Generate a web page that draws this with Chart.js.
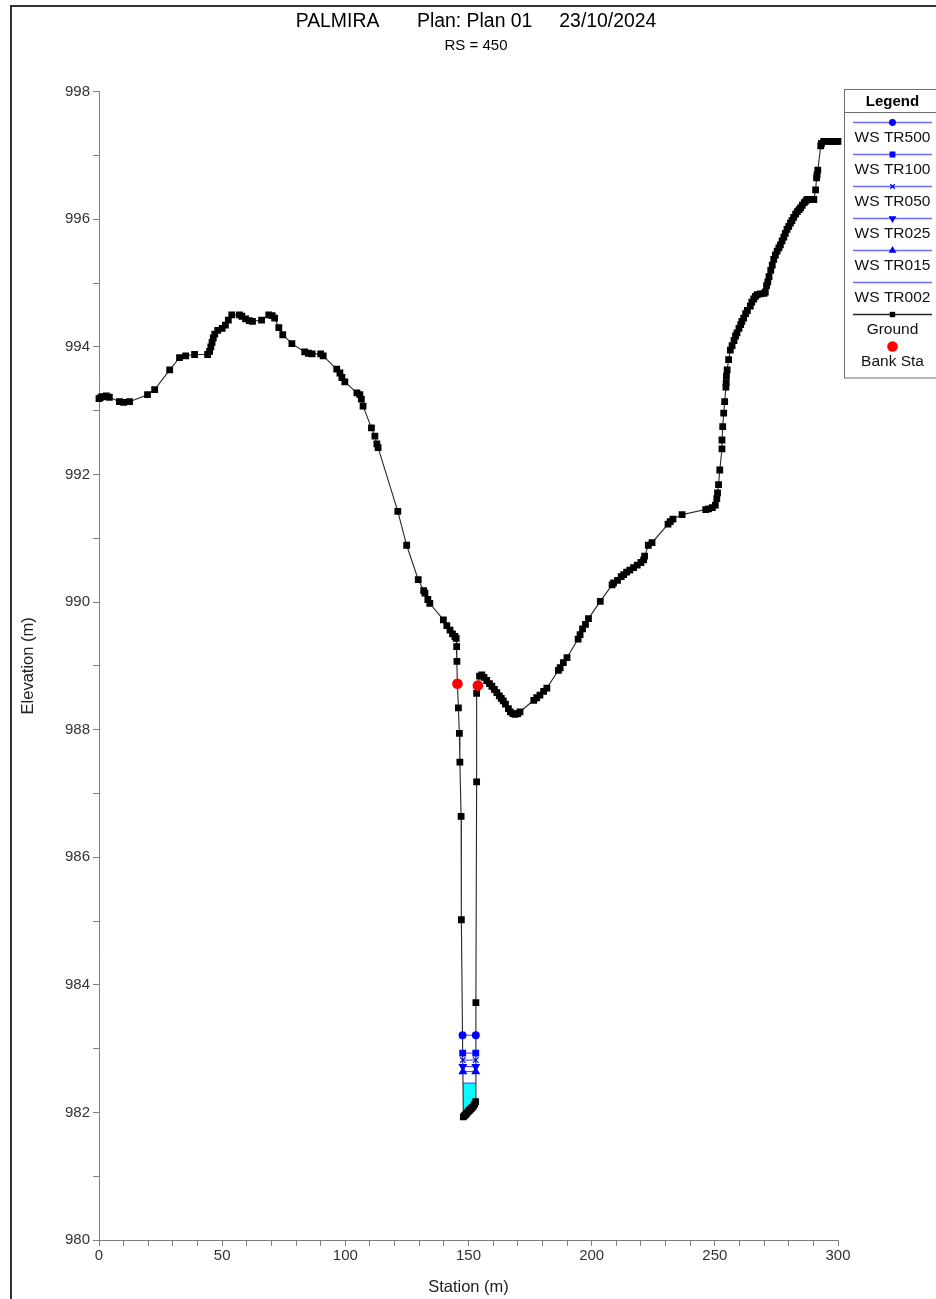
<!DOCTYPE html>
<html><head><meta charset="utf-8">
<script src="https://cdn.jsdelivr.net/npm/chart.js@4.4.1/dist/chart.umd.min.js"></script>
<style>
html,body{margin:0;padding:0;background:#fff;overflow:hidden;width:936px;height:1299px;}
#frame{position:absolute;left:10px;top:5px;width:1000px;height:1400px;border-left:2px solid #333;border-top:2px solid #333;}
#wrap{position:absolute;left:0;top:0;width:952px;height:1299px;}
</style></head><body>
<div id="frame"></div>
<div id="wrap"><canvas id="c" width="952" height="1299"></canvas></div>
<script>
// ---- data ----
const titleText = 'PALMIRA       Plan: Plan 01     23/10/2024';
const subtitleText = 'RS = 450';
const xAxisTitle = 'Station (m)';
const yAxisTitle = 'Elevation (m)';
const legendTitle = 'Legend';

const groundSta = [
  0, 0.8, 1.6, 3.0, 4.2, 8.3, 10.0, 12.4, 19.7, 22.6, 28.7, 32.7, 35.2, 38.8, 44.1, 44.9, 45.4, 45.9, 46.4, 47.0,
  48.2, 50.0, 51.3, 52.5, 53.9, 57.0, 58.0, 59.5, 61.0, 62.3, 66.0, 68.9, 70.3, 71.3, 73.0, 74.6, 78.3, 83.5, 85.0, 86.5,
  90.0, 91.0, 96.5, 97.8, 98.6, 99.8, 104.7, 105.9, 106.5, 107.2, 110.6, 112.0, 112.8, 113.3, 121.3, 124.9, 129.6, 131.8, 132.3, 133.5,
  134.3, 139.8, 141.2, 142.5, 143.5, 144.5, 145.0, 145.2, 145.3, 145.5, 145.9, 146.3, 146.5, 147.0, 147.1, 147.9, 148.4, 148.9, 149.3, 149.8,
  150.2, 150.6, 151.1, 151.5, 152.0, 152.5, 152.9, 153.0, 153.3, 153.3, 153.8, 154.5, 155.4, 156.3, 157.4, 158.5, 159.5, 160.5, 161.5, 162.5,
  163.3, 164.1, 165.0, 166.2, 167.0, 168.0, 168.9, 170.0, 170.9, 176.5, 177.7, 179.0, 180.5, 181.8, 186.5, 187.2, 188.5, 190.0, 194.5, 195.3,
  196.3, 197.5, 198.7, 203.5, 208.3, 208.9, 210.5, 212.0, 213.0, 214.2, 215.5, 217.0, 218.5, 220.0, 221.1, 221.5, 223.0, 224.5, 231.0, 231.9,
  233.0, 236.7, 246.3, 247.5, 249.0, 250.2, 250.8, 251.1, 251.5, 252.0, 252.9, 252.9, 253.2, 253.6, 254.0, 254.5, 254.6, 254.7, 255.0, 255.6,
  256.3, 257.0, 257.8, 258.4, 259.0, 259.8, 260.5, 261.0, 261.7, 262.5, 263.2, 264.4, 265.0, 265.8, 266.5, 267.2, 268.5, 270.0, 270.5, 271.0,
  271.5, 272.0, 272.7, 273.3, 273.9, 274.6, 275.3, 276.0, 276.6, 277.3, 278.0, 278.6, 279.3, 280.0, 280.7, 281.3, 282.0, 282.8, 283.5, 284.2,
  284.8, 285.5, 286.3, 287.0, 287.5, 288.5, 290.2, 290.9, 291.3, 291.5, 291.8, 293.0, 293.3, 294.2, 295.5, 296.5, 297.5, 298.5, 299.3, 300.0
];
const groundElev = [
  993.19, 993.21, 993.22, 993.23, 993.21, 993.14, 993.13, 993.14, 993.25, 993.33, 993.64, 993.83, 993.86, 993.88, 993.88, 993.93, 994.00, 994.07, 994.14, 994.20,
  994.26, 994.29, 994.34, 994.42, 994.50, 994.50, 994.48, 994.44, 994.41, 994.40, 994.42, 994.50, 994.49, 994.45, 994.30, 994.19, 994.05, 993.92, 993.90, 993.89,
  993.89, 993.86, 993.65, 993.59, 993.52, 993.45, 993.28, 993.25, 993.18, 993.07, 992.73, 992.60, 992.48, 992.42, 991.42, 990.89, 990.35, 990.18, 990.14, 990.04,
  989.98, 989.72, 989.63, 989.56, 989.50, 989.46, 989.43, 989.30, 989.07, 988.72, 988.34, 987.94, 987.49, 986.64, 985.02, 981.93, 981.95, 981.97, 981.99, 982.01,
  982.03, 982.04, 982.06, 982.08, 982.10, 982.13, 982.17, 983.72, 987.18, 988.57, 988.69, 988.84, 988.86, 988.82, 988.77, 988.72, 988.68, 988.63, 988.58, 988.53,
  988.49, 988.45, 988.40, 988.33, 988.28, 988.25, 988.24, 988.25, 988.28, 988.46, 988.50, 988.54, 988.60, 988.65, 988.93, 988.97, 989.05, 989.13, 989.42, 989.49,
  989.58, 989.65, 989.74, 990.01, 990.27, 990.30, 990.34, 990.40, 990.43, 990.47, 990.50, 990.54, 990.58, 990.62, 990.66, 990.72, 990.89, 990.93, 991.22, 991.26,
  991.30, 991.37, 991.45, 991.46, 991.48, 991.52, 991.62, 991.71, 991.84, 992.07, 992.40, 992.54, 992.75, 992.96, 993.14, 993.37, 993.44, 993.54, 993.64, 993.80,
  993.95, 994.02, 994.10, 994.17, 994.22, 994.29, 994.35, 994.40, 994.45, 994.52, 994.57, 994.64, 994.70, 994.75, 994.79, 994.82, 994.83, 994.84, 994.86, 994.96,
  995.02, 995.10, 995.20, 995.28, 995.37, 995.44, 995.50, 995.55, 995.60, 995.66, 995.72, 995.78, 995.84, 995.89, 995.94, 995.98, 996.03, 996.08, 996.12, 996.15,
  996.18, 996.22, 996.26, 996.29, 996.31, 996.31, 996.31, 996.46, 996.65, 996.70, 996.77, 997.15, 997.19, 997.22, 997.22, 997.22, 997.22, 997.22, 997.22, 997.22
];

const bankSta = [145.5, 153.8];
const bankElev = [988.72, 988.69];

const wsLabels = ['WS TR500', 'WS TR100', 'WS TR050', 'WS TR025', 'WS TR015', 'WS TR002'];
const wsLevels = [983.21, 982.93, 982.82, 982.72, 982.64, 982.46];
const wsLeftSta = [147.57, 147.64, 147.67, 147.70, 147.72, 147.76];
const wsRightSta = [152.97, 152.95, 152.94, 152.94, 152.93, 152.92];
const wsMarkers = ['circle', 'rect', 'crossRot', 'triangle', 'triangle', false];
const wsRotation = [0, 0, 0, 180, 0, 0];

// ---- build datasets ----
const FONT = '"Liberation Sans", Arial, Helvetica, sans-serif';
Chart.defaults.font.family = FONT;

const groundPts = groundSta.map((s, i) => ({x: s, y: groundElev[i]}));

const wsDatasets = wsLabels.map((lab, i) => ({
  label: lab,
  data: [{x: wsLeftSta[i], y: wsLevels[i]}, {x: wsRightSta[i], y: wsLevels[i]}],
  borderColor: '#3a3aff',
  borderWidth: 1,
  pointStyle: wsMarkers[i] || 'circle',
  pointRotation: wsRotation[i],
  pointRadius: wsMarkers[i] ? (wsMarkers[i] === 'circle' ? 3.3 : 3.9) : 0,
  pointBackgroundColor: '#0000ff',
  pointBorderColor: '#0000ff',
  pointBorderWidth: 1.3,
  fill: false,
  order: 2,
  clip: 8
}));

// cyan fill of the lowest profile: water surface line down to the ground points under it
const lastWs = wsLevels.length - 1;
const fillPts = [{x: wsLeftSta[lastWs], y: wsLevels[lastWs]}]
  .concat(groundPts.filter(p => p.x > wsLeftSta[lastWs] && p.x < wsRightSta[lastWs] && p.y < wsLevels[lastWs]))
  .concat([{x: wsRightSta[lastWs], y: wsLevels[lastWs]}]);

const datasets = wsDatasets.concat([
  {
    label: 'Ground',
    data: groundPts,
    borderColor: '#262626',
    borderWidth: 1.1,
    pointStyle: 'rect',
    pointRadius: 4.8,
    pointBackgroundColor: '#000',
    pointBorderColor: '#000',
    pointBorderWidth: 0,
    fill: false,
    order: 5,
    clip: 8
  },
  {
    label: 'Bank Sta',
    data: bankSta.map((s, i) => ({x: s, y: bankElev[i]})),
    showLine: false,
    borderColor: '#ff0000',
    pointStyle: 'circle',
    pointRadius: 5.3,
    pointBackgroundColor: '#ff0000',
    pointBorderColor: '#ff0000',
    pointBorderWidth: 0,
    order: 1,
    clip: 8
  },
  {
    label: 'TR002 area',
    hideInLegend: true,
    data: fillPts,
    borderColor: 'rgba(0,0,0,0)',
    borderWidth: 0,
    pointRadius: 0,
    backgroundColor: '#00ffff',
    fill: {value: wsLevels[lastWs]},
    order: 10
  }
]);

// ---- legend box drawn in the style of the original ----
const boxLegend = {
  id: 'boxLegend',
  afterDraw(chart) {
    const ctx = chart.ctx;
    const x0 = 844.5, y0 = 89.5, w = 96, h = 288.5;
    const cx = 892.5;
    ctx.save();
    ctx.fillStyle = '#fff';
    ctx.fillRect(x0, y0, w, h);
    ctx.strokeStyle = '#6e6e6e';
    ctx.lineWidth = 1;
    ctx.strokeRect(x0, y0, w, h);
    ctx.beginPath(); ctx.moveTo(x0, 112.5); ctx.lineTo(x0 + w, 112.5); ctx.stroke();
    ctx.fillStyle = '#000';
    ctx.textAlign = 'center';
    ctx.textBaseline = 'middle';
    ctx.font = 'bold 15px ' + FONT;
    ctx.fillText(legendTitle, cx, 101.5);
    const items = chart.data.datasets.filter(d => !d.hideInLegend);
    items.forEach((d, i) => {
      const ly = 122.5 + 32 * i;
      if (d.showLine !== false) {
        ctx.strokeStyle = d.label === 'Ground' ? '#262626' : '#6a6aff';
        ctx.lineWidth = 1.3;
        ctx.beginPath(); ctx.moveTo(853, ly); ctx.lineTo(932, ly); ctx.stroke();
      }
      if (d.pointRadius > 0) {
        ctx.fillStyle = d.pointBackgroundColor;
        ctx.strokeStyle = d.pointBorderColor;
        ctx.lineWidth = d.pointBorderWidth || 0;
        const r = d.label === 'Bank Sta' ? 5.3 : (d.label === 'Ground' ? 3.8 : (d.pointStyle === 'circle' ? 2.8 : 3.2));
        Chart.helpers.drawPoint(ctx, {pointStyle: d.pointStyle, rotation: d.pointRotation || 0, radius: r, borderWidth: d.pointBorderWidth || 0}, cx, ly);
      }
      ctx.fillStyle = '#111';
      ctx.font = '15.5px ' + FONT;
      ctx.fillText(d.label, cx, ly + 15);
    });
    ctx.restore();
  }
};

const axisGray = '#7f7f7f';
new Chart(document.getElementById('c'), {
  type: 'line',
  data: {datasets},
  plugins: [boxLegend],
  options: {
    responsive: false,
    animation: false,
    parsing: true,
    layout: {padding: 0},
    plugins: {
      legend: {display: false},
      tooltip: {enabled: false},
      title: {display: true, text: titleText, color: '#000', font: {size: 19.4, weight: 'normal'}, padding: {top: 10.4, bottom: 2}},
      subtitle: {display: true, text: subtitleText, color: '#000', font: {size: 15}, padding: {top: 1, bottom: 37}}
    },
    scales: {
      x: {
        type: 'linear', position: 'bottom', min: 0, max: 300,
        afterFit(s) { s.height = 59; },
        grid: {drawOnChartArea: false, drawTicks: true, tickLength: 6, color: axisGray, tickColor: axisGray},
        border: {display: true, color: axisGray, width: 1},
        ticks: {stepSize: 10, autoSkip: false, maxTicksLimit: 100, maxRotation: 0, minRotation: 0, padding: 1, color: '#333', font: {size: 15},
          callback: v => (Math.round(v) % 50 === 0 ? String(Math.round(v)) : '')},
        title: {display: true, text: xAxisTitle, color: '#222', font: {size: 16.5}, padding: {top: 0, bottom: 2.1}}
      },
      y: {
        type: 'linear', position: 'left', min: 980, max: 998,
        afterFit(s) { s.width = 99; },
        grid: {drawOnChartArea: false, drawTicks: true, tickLength: 6, color: axisGray, tickColor: axisGray},
        border: {display: true, color: axisGray, width: 1},
        ticks: {stepSize: 1, autoSkip: false, maxTicksLimit: 100, padding: 3, color: '#333', font: {size: 15},
          callback: v => (Math.round(v) % 2 === 0 ? String(Math.round(v)) : '')},
        title: {display: true, text: yAxisTitle, color: '#222', font: {size: 16.5}, padding: {top: 18.1, bottom: 0}}
      },
      y2: {
        type: 'linear', position: 'right', min: 0, max: 1,
        afterFit(s) { s.width = 114; },
        grid: {display: false, drawTicks: false},
        border: {display: false},
        ticks: {display: false}
      }
    }
  }
});
</script>
</body></html>
